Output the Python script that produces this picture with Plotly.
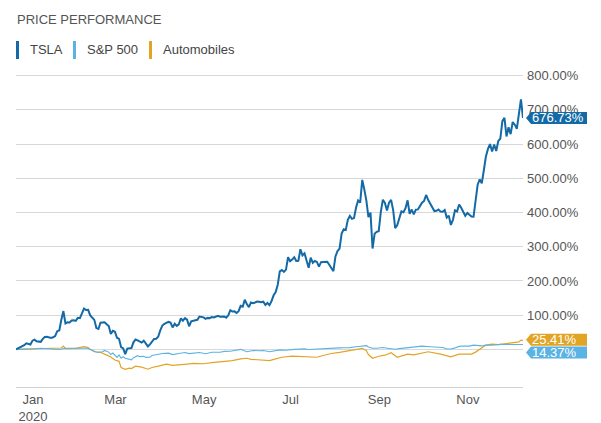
import pandas as pd
import plotly.graph_objects as go

# ---------------- data ----------------
HOLIDAYS = ["2020-01-01", "2020-01-20", "2020-02-17", "2020-04-10", "2020-05-25",
            "2020-07-03", "2020-09-07", "2020-11-26"]
trading_days = pd.bdate_range("2019-12-31", "2020-12-21", freq="C", holidays=HOLIDAYS)
tsla_dates = [d.strftime("%Y-%m-%d") for d in trading_days]

# TSLA % change since 2019-12-31, one value per trading day
tsla_pct = [
    0.0,
    # Jan
    2.8, 5.9, 7.9, 12.1, 17.6, 15.1, 14.3, 25.5, 28.6, 23.9, 22.7, 22.0, 30.8, 36.1,
    36.8, 35.0, 33.4, 35.5, 38.9, 53.2, 55.5,
    # Feb
    86.5, 112.0, 75.6, 79.0, 78.8, 84.4, 85.1, 83.4, 92.2, 91.3, 105.2, 119.3, 115.0,
    115.4, 99.3, 91.2, 86.2, 62.3, 59.7,
    # Mar
    77.8, 78.2, 79.2, 73.2, 68.2, 45.3, 54.3, 51.6, 34.0, 30.7, 6.4, 2.8, -13.7, 2.2,
    2.2, 3.8, 20.7, 28.9, 26.3, 23.0, 20.0, 25.3,
    # Apr
    15.1, 8.6, 14.7, 23.4, 30.4, 31.2, 37.0, 55.6, 69.7, 74.5, 78.1, 80.2, 78.4, 64.2,
    75.0, 68.7, 73.3, 90.9, 83.9, 91.4, 86.9,
    # May
    67.6, 82.0, 83.6, 87.1, 86.5, 95.9, 93.9, 93.5, 89.1, 92.0, 91.0, 94.5, 93.1, 95.0,
    97.8, 95.3, 95.7, 96.1, 92.6, 99.6,
    # Jun
    114.7, 110.7, 111.1, 106.6, 111.7, 127.1, 124.9, 145.0, 132.6, 123.6, 136.9, 134.8,
    137.1, 140.0, 139.3, 137.7, 139.5, 129.7, 135.7, 129.4, 141.3, 158.1,
    # Jul
    167.6, 188.9, 227.9, 232.2, 226.5, 233.3, 269.2, 257.9, 262.6, 269.6, 258.7, 258.8,
    292.7, 274.9, 280.6, 261.7, 238.7, 268.0, 252.9, 258.4, 255.6, 242.0,
    # Aug
    255.0, 255.5, 255.0, 256.1, 247.3, 239.1, 228.5, 271.7, 287.5, 294.6, 338.8, 351.1,
    349.1, 378.5, 390.0, 381.5, 383.7, 414.7, 435.2, 429.1, 495.6,
    # Sep
    467.8, 434.7, 386.5, 400.0, 294.7, 337.8, 343.8, 345.5, 401.5, 437.6, 428.0, 406.1,
    428.5, 437.1, 407.0, 354.6, 363.5, 386.9, 403.4, 400.9, 412.8,
    # Oct
    435.7, 396.1, 408.8, 394.8, 408.3, 409.1, 418.7, 428.6, 433.9, 451.4, 436.5, 425.5,
    414.9, 404.3, 405.2, 408.9, 402.8, 402.3, 407.6, 385.3, 391.0, 363.8,
    # Nov
    378.7, 406.6, 403.2, 423.6, 413.9, 403.5, 390.5, 398.6, 392.1, 388.3, 387.8, 427.8,
    481.6, 496.7, 485.2, 523.7, 563.8, 586.1, 600.1, 578.4,
    # Dec
    598.9, 579.9, 609.2, 616.0, 667.1, 676.8, 622.5, 649.5, 629.1, 664.7, 656.9, 644.4,
    684.0, 730.7, 676.73,
]
assert len(tsla_pct) == len(tsla_dates), (len(tsla_pct), len(tsla_dates))

sp_dates = [
    "2019-12-31", "2020-01-03", "2020-01-08", "2020-01-14", "2020-01-17", "2020-01-22",
    "2020-01-27", "2020-01-31", "2020-02-05", "2020-02-10", "2020-02-14", "2020-02-19",
    "2020-02-21", "2020-02-24", "2020-02-25", "2020-02-27", "2020-02-28", "2020-03-03",
    "2020-03-04", "2020-03-06", "2020-03-09", "2020-03-10", "2020-03-12", "2020-03-13",
    "2020-03-16", "2020-03-17", "2020-03-18", "2020-03-20", "2020-03-23", "2020-03-24",
    "2020-03-26", "2020-03-27", "2020-03-31", "2020-04-01", "2020-04-03", "2020-04-06",
    "2020-04-09", "2020-04-14", "2020-04-17", "2020-04-21", "2020-04-24", "2020-04-29",
    "2020-05-01", "2020-05-06", "2020-05-08", "2020-05-13", "2020-05-15", "2020-05-18",
    "2020-05-22", "2020-05-27", "2020-06-01", "2020-06-05", "2020-06-08", "2020-06-11",
    "2020-06-16", "2020-06-19", "2020-06-23", "2020-06-26", "2020-06-30", "2020-07-06",
    "2020-07-09", "2020-07-13", "2020-07-15", "2020-07-20", "2020-07-22", "2020-07-24",
    "2020-07-29", "2020-07-31", "2020-08-05", "2020-08-10", "2020-08-14", "2020-08-18",
    "2020-08-21", "2020-08-26", "2020-08-31", "2020-09-02", "2020-09-03", "2020-09-08",
    "2020-09-10", "2020-09-15", "2020-09-18", "2020-09-23", "2020-09-25", "2020-09-30",
    "2020-10-05", "2020-10-09", "2020-10-12", "2020-10-16", "2020-10-21", "2020-10-26",
    "2020-10-28", "2020-10-30", "2020-11-03", "2020-11-05", "2020-11-09", "2020-11-12",
    "2020-11-16", "2020-11-20", "2020-11-24", "2020-11-30", "2020-12-04", "2020-12-08",
    "2020-12-10", "2020-12-14", "2020-12-17", "2020-12-18", "2020-12-21",
]
sp_pct = [
    0.0, 0.1, 0.7, 1.6, 3.1, 2.8,
    0.4, -0.2, 3.2, 3.8, 4.6, 4.8,
    3.3, -0.2, -3.2, -7.8, -8.6, -7.0,
    -3.1, -8.0, -15.0, -10.8, -23.2, -16.1,
    -26.1, -21.7, -25.8, -28.7, -30.7, -24.2,
    -18.6, -21.3, -20.0, -23.5, -23.0, -17.6,
    -13.6, -11.9, -11.0, -15.3, -12.2, -9.0,
    -12.4, -11.8, -9.3, -12.7, -11.4, -8.6,
    -8.5, -6.0, -5.4, -1.1, 0.05, -7.1,
    -3.3, -4.1, -3.1, -6.9, -4.0, -1.6,
    -2.4, -2.3, -0.1, 0.7, 1.4, -0.5,
    0.9, 1.2, 3.0, 4.0, 4.4, 4.9,
    5.1, 7.7, 8.3, 10.8, 6.9, 3.1,
    3.4, 5.3, 2.7, 0.2, 2.1, 4.1,
    5.5, 7.6, 9.4, 7.8, 6.3, 5.3,
    1.2, 1.2, 4.3, 8.7, 9.9, 9.5,
    12.3, 10.1, 12.5, 12.1, 14.5, 14.6,
    13.5, 12.9, 15.2, 14.8, 14.37,
]

auto_dates = [
    "2019-12-31", "2020-01-08", "2020-01-16", "2020-01-24", "2020-01-31", "2020-02-03",
    "2020-02-04", "2020-02-05", "2020-02-12", "2020-02-19", "2020-02-21", "2020-02-24",
    "2020-02-26", "2020-03-02", "2020-03-05", "2020-03-09", "2020-03-11", "2020-03-13",
    "2020-03-16", "2020-03-18", "2020-03-20", "2020-03-23", "2020-03-25", "2020-03-27",
    "2020-03-30", "2020-04-02", "2020-04-06", "2020-04-09", "2020-04-16", "2020-04-21",
    "2020-04-24", "2020-04-30", "2020-05-05", "2020-05-12", "2020-05-18", "2020-05-26",
    "2020-06-02", "2020-06-08", "2020-06-11", "2020-06-15", "2020-06-19", "2020-06-26",
    "2020-07-01", "2020-07-07", "2020-07-14", "2020-07-17", "2020-07-24", "2020-07-30",
    "2020-08-04", "2020-08-10", "2020-08-14", "2020-08-21", "2020-08-27", "2020-08-31",
    "2020-09-02", "2020-09-03", "2020-09-08", "2020-09-11", "2020-09-16", "2020-09-21",
    "2020-09-24", "2020-10-01", "2020-10-06", "2020-10-15", "2020-10-23", "2020-10-30",
    "2020-11-05", "2020-11-13", "2020-11-17", "2020-11-19", "2020-11-24", "2020-11-30",
    "2020-12-03", "2020-12-09", "2020-12-14", "2020-12-17", "2020-12-18", "2020-12-21",
]
auto_pct = [
    0.0, 1.0, 2.0, 3.0, 2.0, 4.0,
    9.7, 2.0, 3.0, 8.0, 5.0, 0.0,
    -7.0, -8.5, -16.7, -22.0, -31.0, -35.0,
    -53.0, -58.5, -55.0, -56.0, -49.0, -50.0,
    -52.0, -58.0, -53.0, -49.0, -43.0, -47.0,
    -46.0, -43.0, -41.0, -42.0, -39.0, -37.0,
    -33.0, -28.0, -26.0, -29.0, -31.0, -33.0,
    -28.0, -23.0, -19.7, -20.0, -22.0, -23.0,
    -18.0, -12.0, -9.0, -4.0, -1.0, 3.0,
    -4.0, -15.0, -26.0, -20.0, -17.0, -10.0,
    -23.0, -14.0, -16.0, -7.0, -14.0, -21.6,
    -14.0, -14.0, -8.0, 0.0, 12.6, 15.6,
    14.0, 17.0, 19.0, 22.0, 27.0, 25.41,
]

series_names = ["TSLA", "S&P 500", "Automobiles"]
y_tick_vals = [0, 100, 200, 300, 400, 500, 600, 700, 800]
y_tick_text = ["", "100.00%", "200.00%", "300.00%", "400.00%", "500.00%",
               "600.00%", "700.00%", "800.00%"]
x_tick_vals = ["2020-01-02", "2020-03-02", "2020-05-01", "2020-07-01", "2020-09-01", "2020-11-02"]
x_tick_text = ["Jan<br>2020", "Mar", "May", "Jul", "Sep", "Nov"]

# ---------------- style ----------------
C_TSLA = "#136aa6"
C_SP = "#5ab3e3"
C_AUTO = "#e2a424"
FONT = "Arial, 'Liberation Sans', sans-serif"
W, H = 601, 423
ML, MR, MT, MB = 16, 78, 74, 36
PW, PH = W - ML - MR, H - MT - MB


def px_x(px):
    return (px - ML) / PW


def px_y(py):
    return (H - MB - py) / PH


fig = go.Figure()
fig.add_trace(go.Scatter(x=auto_dates, y=auto_pct, mode="lines", name=series_names[2],
                         line=dict(color=C_AUTO, width=1.2)))
fig.add_trace(go.Scatter(x=sp_dates, y=sp_pct, mode="lines", name=series_names[1],
                         line=dict(color=C_SP, width=1.1)))
fig.add_trace(go.Scatter(x=tsla_dates, y=tsla_pct, mode="lines", name=series_names[0],
                         line=dict(color=C_TSLA, width=2)))


def badge_path(dy):
    return (f"M 3,{dy} L 8,{dy + 6} L 64,{dy + 6} L 64,{dy - 6} L 8,{dy - 6} Z")


shapes = []
annotations = []
badges = [
    (tsla_pct[-1], C_TSLA, 0),
    (auto_pct[-1], C_AUTO, 1),
    (sp_pct[-1], C_SP, -8),
]
for val, col, dy in badges:
    shapes.append(dict(type="path", xref="paper", yref="y", xsizemode="pixel",
                       ysizemode="pixel", xanchor=1, yanchor=val, path=badge_path(dy),
                       fillcolor=col, line=dict(width=0), layer="above"))
    annotations.append(dict(x=1, y=val, xref="paper", yref="y", xanchor="left",
                            yanchor="middle", xshift=7, yshift=dy, showarrow=False,
                            text=f"{val:.2f}%",
                            font=dict(family=FONT, size=13, color="white")))

# title
annotations.append(dict(x=px_x(15), y=px_y(19), xref="paper", yref="paper",
                        xanchor="left", yanchor="middle", showarrow=False,
                        text="PRICE PERFORMANCE",
                        font=dict(family=FONT, size=13, color="#555555")))

# legend (manual)
legend_items = [(16, 29, C_TSLA), (73, 86, C_SP), (149, 162, C_AUTO)]
for (bx, tx, col), name in zip(legend_items, series_names):
    shapes.append(dict(type="rect", xref="paper", yref="paper",
                       x0=px_x(bx), x1=px_x(bx + 3), y0=px_y(59), y1=px_y(41),
                       fillcolor=col, line=dict(width=0)))
    annotations.append(dict(x=px_x(tx - 1), y=px_y(50), xref="paper", yref="paper",
                            xanchor="left", yanchor="middle", showarrow=False,
                            text=name, font=dict(family=FONT, size=13, color="#444444")))

fig.update_layout(
    width=W, height=H,
    margin=dict(l=ML, r=MR, t=MT, b=MB, autoexpand=False),
    paper_bgcolor="white", plot_bgcolor="white",
    showlegend=False,
    shapes=shapes, annotations=annotations,
    font=dict(family=FONT, size=13, color="#555555"),
    xaxis=dict(
        type="date",
        range=["2019-12-31", "2020-12-21"],
        rangebreaks=[dict(bounds=["sat", "mon"]), dict(values=HOLIDAYS)],
        tickvals=x_tick_vals, ticktext=x_tick_text,
        ticklabelshift=15,
        automargin=False,
        showgrid=False, zeroline=False,
        showline=True, linecolor="#d2d2d2", linewidth=1,
        ticks="",
        tickfont=dict(family=FONT, size=13, color="#555555"),
        fixedrange=True,
    ),
    yaxis=dict(
        side="right",
        range=[-110, 805],
        tickvals=y_tick_vals, ticktext=y_tick_text,
        automargin=False,
        ticklabelstandoff=3,
        showgrid=True, gridcolor="#d8d8d8", gridwidth=1,
        zeroline=False,
        ticks="",
        tickfont=dict(family=FONT, size=13, color="#555555"),
        fixedrange=True,
    ),
)

fig.write_html("out.html", config={"displayModeBar": False})
